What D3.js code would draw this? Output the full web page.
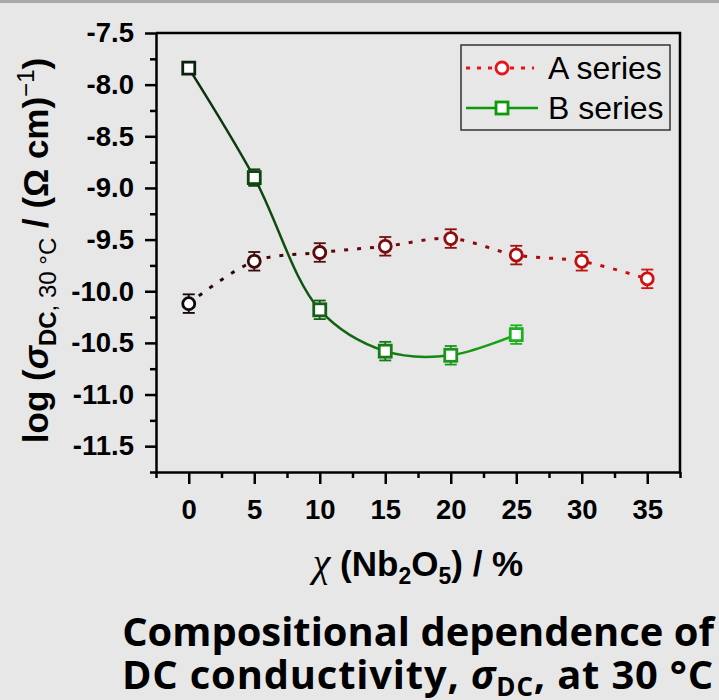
<!DOCTYPE html>
<html>
<head>
<meta charset="utf-8">
<script src="https://cdn.jsdelivr.net/npm/d3@7"></script>
<style>
  html, body { margin: 0; padding: 0; background: #e7e7e7; }
  svg { display: block; }
</style>
</head>
<body>
<div id="chart"></div>
<script>
let font = "Liberation Sans, Arial, sans-serif"

// Daten
let xTicks = [0, 5, 10, 15, 20, 25, 30, 35];
let xMinor = [-2.5, 2.5, 7.5, 12.5, 17.5, 22.5, 27.5, 32.5, 37.5];
let yTicks = [-7.5, -8.0, -8.5, -9.0, -9.5, -10.0, -10.5, -11.0, -11.5];
let yMinor = [-7.75, -8.25, -8.75, -9.25, -9.75, -10.25, -10.75, -11.25, -11.75];

let aX = [0, 5, 10, 15, 20, 25, 30, 35];
let aY = [-10.12, -9.71, -9.625, -9.565, -9.49, -9.65, -9.71, -9.88];
let aErr = [0.09, 0.09, 0.09, 0.09, 0.09, 0.09, 0.09, 0.09];

let bX = [0, 5, 10, 15, 20, 25];
let bY = [-7.84, -8.90, -10.18, -10.58, -10.62, -10.42];
let bErr = [0.04, 0.08, 0.09, 0.09, 0.09, 0.09];

let seriesNames = ["A series", "B series"];
let titleLines = ["Compositional dependence of", "DC conductivity, "];

function zeichne() {
    let width = 719, height = 700;
    let margin = { top: 33, right: 39, bottom: 228, left: 156 };

    let svg = d3.select("#chart").append("svg")
        .attr("width", width)
        .attr("height", height);

    svg.append("rect").attr("width", width).attr("height", height).attr("fill", "#e7e7e7");
    svg.append("rect").attr("width", width).attr("height", 3).attr("fill", "#a9a9a9");

    var x = d3.scaleLinear().domain([-2.5, 37.5]).range([margin.left, width - margin.right]);
    var y = d3.scaleLinear().domain([-11.75, -7.5]).range([height - margin.bottom, margin.top]);

    let defs = svg.append("defs");
    function verlauf(id, x0, x1, c0, c1) {
        let g = defs.append("linearGradient").attr("id", id)
            .attr("gradientUnits", "userSpaceOnUse")
            .attr("x1", x(x0)).attr("x2", x(x1)).attr("y1", 0).attr("y2", 0);
        g.append("stop").attr("offset", "0%").attr("stop-color", c0);
        g.append("stop").attr("offset", "100%").attr("stop-color", c1);
    }
    verlauf("gradA", 0, 35, "#1a0606", "#d80e0e");
    verlauf("gradB", 0, 25, "#0c2a0c", "#18a818");

    let farbeA = d3.scaleLinear().domain([0, 35]).range(["#140808", "#d41212"]).interpolate(d3.interpolateRgb.gamma(1.4));
    let farbeB = d3.scaleLinear().domain([0, 25]).range(["#0c220c", "#1eb01e"]).interpolate(d3.interpolateRgb.gamma(1.2));

    // rahmen oben und rechts
    svg.append("path")
        .attr("d", "M" + x(-2.5) + "," + y(-7.5) + "H" + x(37.5) + "V" + y(-11.75))
        .attr("fill", "none").attr("stroke", "#000").attr("stroke-width", 2.5);

    // achsen
    svg.append("g")
        .attr("transform", "translate(0," + y(-11.75) + ")")
        .call(d3.axisBottom(x).tickValues(xTicks).tickSize(12).tickSizeOuter(0).tickPadding(15).tickFormat(d => d));
    svg.append("g")
        .attr("transform", "translate(0," + y(-11.75) + ")")
        .call(d3.axisBottom(x).tickValues(xMinor).tickSize(6).tickSizeOuter(0).tickFormat(""))
        .select(".domain").remove();

    svg.append("g")
        .attr("transform", "translate(" + x(-2.5) + ",0)")
        .call(d3.axisLeft(y).tickValues(yTicks).tickSize(11).tickSizeOuter(0).tickPadding(11).tickFormat(d => d.toFixed(1)));
    svg.append("g")
        .attr("transform", "translate(" + x(-2.5) + ",0)")
        .call(d3.axisLeft(y).tickValues(yMinor).tickSize(6).tickSizeOuter(0).tickFormat(""))
        .select(".domain").remove();

    svg.selectAll(".domain, .tick line").attr("stroke", "#000").attr("stroke-width", 2.5);
    svg.selectAll(".tick text")
        .attr("font-family", font).attr("font-size", "27.5px").attr("font-weight", "bold").attr("fill", "#000");

    // linien
    let punkteA = aX.map((d, i) => ({ x: d, y: aY[i], e: aErr[i] }));
    let punkteB = bX.map((d, i) => ({ x: d, y: bY[i], e: bErr[i] }));
    let linie = d3.line().x(d => x(d.x)).y(d => y(d.y)).curve(d3.curveCatmullRom.alpha(0.5));

    svg.append("path").datum(punkteA).attr("d", linie)
        .attr("fill", "none").attr("stroke", "url(#gradA)").attr("stroke-width", 3)
        .attr("stroke-dasharray", "4,9");
    svg.append("path").datum(punkteB).attr("d", linie)
        .attr("fill", "none").attr("stroke", "url(#gradB)").attr("stroke-width", 2.5);

    function fehlerbalken(punkte, farbe) {
        let g = svg.append("g");
        let eb = g.selectAll("g").data(punkte).enter().append("g")
            .attr("stroke", d => farbe(d.x)).attr("stroke-width", 1.8);
        eb.append("line").attr("x1", d => x(d.x)).attr("x2", d => x(d.x))
            .attr("y1", d => y(d.y + d.e)).attr("y2", d => y(d.y - d.e));
        eb.append("line").attr("x1", d => x(d.x) - 6).attr("x2", d => x(d.x) + 6)
            .attr("y1", d => y(d.y + d.e)).attr("y2", d => y(d.y + d.e));
        eb.append("line").attr("x1", d => x(d.x) - 6).attr("x2", d => x(d.x) + 6)
            .attr("y1", d => y(d.y - d.e)).attr("y2", d => y(d.y - d.e));
    }
    fehlerbalken(punkteA, farbeA);
    fehlerbalken(punkteB, farbeB);

    svg.selectAll(".kreis").data(punkteA).enter().append("circle")
        .attr("class", "kreis")
        .attr("cx", d => x(d.x)).attr("cy", d => y(d.y)).attr("r", 6)
        .attr("fill", "#fff").attr("stroke", d => farbeA(d.x)).attr("stroke-width", 2.8);
    svg.selectAll(".quadrat").data(punkteB).enter().append("rect")
        .attr("class", "quadrat")
        .attr("x", d => x(d.x) - 6).attr("y", d => y(d.y) - 6).attr("width", 12).attr("height", 12)
        .attr("fill", "#fff").attr("stroke", d => farbeB(d.x)).attr("stroke-width", 2.8);

    // legende
    let leg = svg.append("g");
    leg.append("rect").attr("x", 461).attr("y", 45).attr("width", 209).attr("height", 85)
        .attr("fill", "none").attr("stroke", "#333").attr("stroke-width", 1.5);
    let l1 = leg.append("g").attr("transform", "translate(0,68)");
    l1.append("line").attr("x1", 466).attr("x2", 534).attr("stroke", "#e8141b")
        .attr("stroke-width", 3).attr("stroke-dasharray", "4,7");
    l1.append("circle").attr("cx", 502).attr("r", 6).attr("fill", "#fff").attr("stroke", "#e8141b").attr("stroke-width", 2.8);
    l1.append("text").attr("x", 548).attr("y", 11).text(seriesNames[0]);
    let l2 = leg.append("g").attr("transform", "translate(0,108)");
    l2.append("line").attr("x1", 466).attr("x2", 538).attr("stroke", "#0a9a0a").attr("stroke-width", 2.5);
    l2.append("rect").attr("x", 496).attr("y", -6).attr("width", 12).attr("height", 12)
        .attr("fill", "#fff").attr("stroke", "#0a9a0a").attr("stroke-width", 2.8);
    l2.append("text").attr("x", 548).attr("y", 11).text(seriesNames[1]);
    leg.selectAll("text").attr("font-family", font).attr("font-size", "32px").attr("fill", "#000");

    // achsentitel
    let mitteX = (x(-2.5) + x(37.5)) / 2;
    let mitteY = (y(-7.5) + y(-11.75)) / 2;

    let xt = svg.append("text").attr("x", mitteX).attr("y", 576).attr("text-anchor", "middle")
        .attr("font-family", font).attr("font-size", "35px").attr("font-weight", "bold");
    xt.append("tspan").attr("font-family", "Liberation Serif, serif").attr("font-style", "italic").attr("font-weight", "normal").attr("font-size", "40px").text("χ");
    xt.append("tspan").text(" (Nb");
    xt.append("tspan").attr("font-size", "23px").attr("dy", 8).text("2");
    xt.append("tspan").attr("dy", -8).text("O");
    xt.append("tspan").attr("font-size", "23px").attr("dy", 8).text("5");
    xt.append("tspan").attr("dy", -8).text(") / %");

    let yt = svg.append("text").attr("transform", "translate(48," + (mitteY - 2) + ") rotate(-90)")
        .attr("text-anchor", "middle")
        .attr("font-family", font).attr("font-size", "35px").attr("font-weight", "bold");
    yt.append("tspan").text("log (");
    yt.append("tspan").attr("font-style", "italic").text("σ");
    yt.append("tspan").attr("font-size", "24px").attr("dy", 8).text("DC");
    yt.append("tspan").attr("font-size", "24px").attr("font-weight", "normal").text(", 30 °C");
    yt.append("tspan").attr("dy", -8).text(" / (Ω cm)");
    yt.append("tspan").attr("font-size", "24px").attr("font-weight", "normal").attr("dy", -14).text("−1");
    yt.append("tspan").attr("dy", 14).text(")");

    // untertitel
    let tf = "Open Sans, Noto Sans, sans-serif";
    let t1 = svg.append("text").attr("x", mitteX).attr("y", 646).attr("text-anchor", "middle")
        .attr("font-family", tf).attr("font-weight", "bold").attr("font-size", "40px").attr("fill", "#000")
        .text(titleLines[0]);
    let t2 = svg.append("text").attr("x", mitteX).attr("y", 689).attr("text-anchor", "middle")
        .attr("font-family", tf).attr("font-weight", "bold").attr("font-size", "40px").attr("fill", "#000");
    t2.append("tspan").text(titleLines[1]);
    t2.append("tspan").attr("font-style", "italic").text("σ");
    t2.append("tspan").attr("class", "sub").attr("font-size", "26px").attr("dy", 7).text("DC");
    t2.append("tspan").attr("dy", -7).text(", at 30 °C");

    // schriftgroesse an breite anpassen
    let ziel = 592;
    let fs = 40 * ziel / t1.node().getComputedTextLength();
    t1.attr("font-size", fs + "px");
    t2.attr("font-size", fs + "px");
    t2.select(".sub").attr("font-size", (fs * 0.65) + "px");
    // zweite zeile per zeichenabstand auf gleiche breite bringen
    let w2 = t2.node().getComputedTextLength();
    let n = t2.text().length;
    if (w2 < ziel && n > 1) {
        t2.attr("letter-spacing", ((ziel - w2) / n) + "px");
    }
}

zeichne();
</script>
</body>
</html>
